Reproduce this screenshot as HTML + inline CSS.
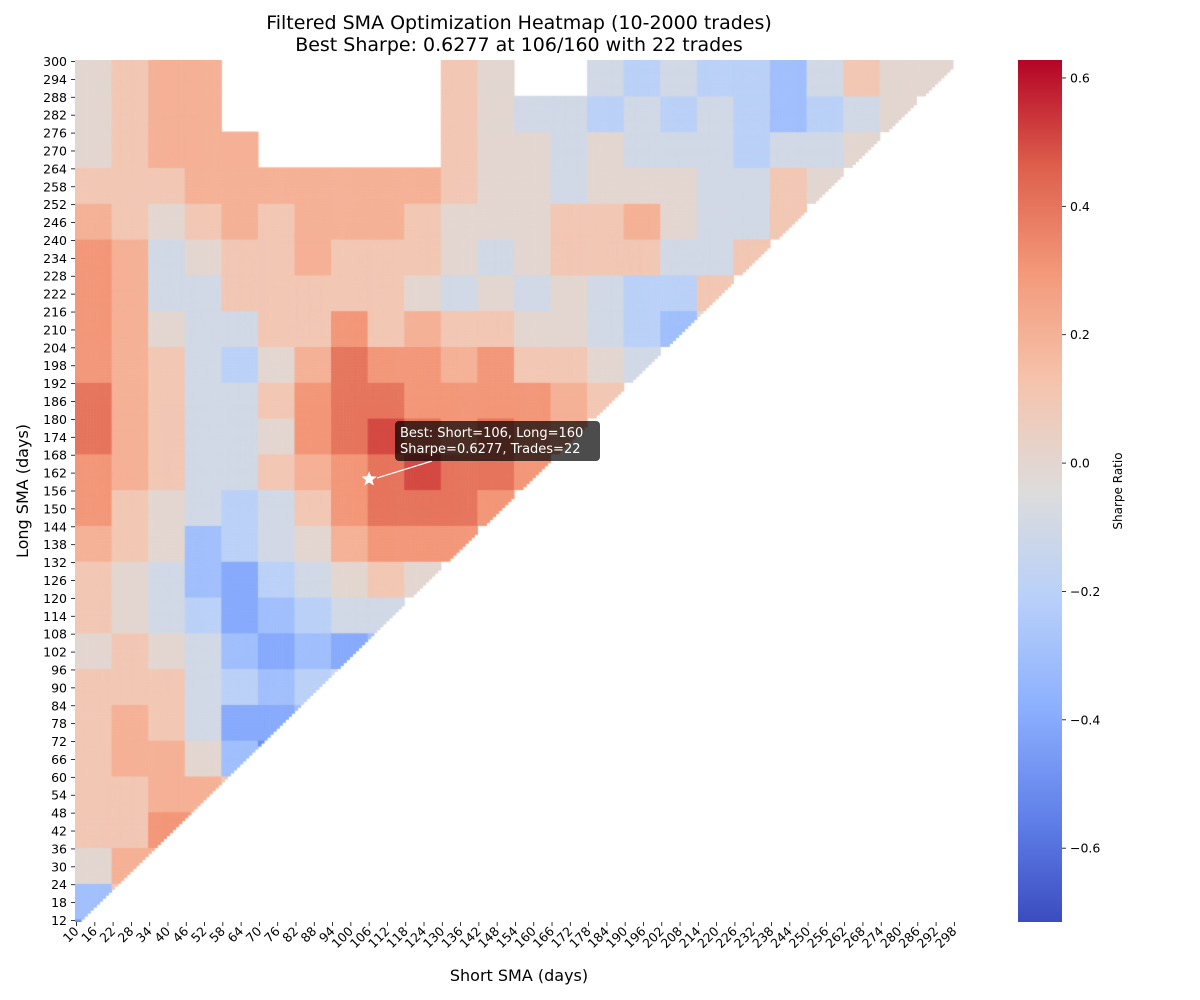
<!DOCTYPE html>
<html><head><meta charset="utf-8"><style>
body{margin:0;background:#fff;font-family:"DejaVu Sans","Liberation Sans",sans-serif}
#wrap{position:relative;width:1200px;height:1000px;overflow:hidden}
canvas{position:absolute;left:75px;top:60px}
svg{position:absolute;left:0;top:0}
svg text{font-family:"DejaVu Sans","Liberation Sans",sans-serif}
</style></head><body>
<div id="wrap">
<canvas id="hm" width="887" height="862"></canvas>
<svg id="ov" width="1200" height="1000">
<text x="519" y="29" font-size="19" text-anchor="middle">Filtered SMA Optimization Heatmap (10-2000 trades)</text>
<text x="519" y="51" font-size="19" text-anchor="middle">Best Sharpe: 0.6277 at 106/160 with 22 trades</text>
<text x="519" y="981" font-size="16" text-anchor="middle">Short SMA (days)</text>
<text x="28" y="491" font-size="16" text-anchor="middle" transform="rotate(-90 28 491)">Long SMA (days)</text>
<text x="1122" y="491" font-size="12" text-anchor="middle" transform="rotate(-90 1122 491)">Sharpe Ratio</text>
<g id="xt"></g>
<g id="yt"></g>
<g id="cb"></g>
<g>
<line x1="432" y1="461" x2="377" y2="478" stroke="#fff" stroke-width="1.2"/>
<polygon id="star" fill="#fff"/>
<rect x="395" y="421" width="205" height="40" rx="4" fill="rgba(0,0,0,0.7)"/>
<text x="400" y="437" font-size="13" fill="#fff">Best: Short=106, Long=160</text>
<text x="400" y="453" font-size="13" fill="#fff">Sharpe=0.6277, Trades=22</text>
</g>
</svg>
</div>
<script>
// value codes: A=-0.7 ... H=0.0 ... N=0.6 ; '.' = filtered out
const codeLetters = "ABCDEFGHIJKLMN";
const blockSize = 12;
const shortMin = 10, shortMax = 300, longMin = 12, longMax = 300;
const gridRows = [
"HIJJ......IH..GFGFFEGIHH.",
"HIJJ......IHGGFGFGFEFGH..",
"HIJJJ.....IHHGHGGGFGGH...",
"IIIJJJJJJJIHHGHHHGGIH",
"JIHIJIJJJIHHHIIJHGGI",
"KJGHIIJIIIHGHIIIGGI",
"KJGGIIIIIHGHGHGFFI",
"KJHGGIIKIJIIHHGFEH",
"KJIGFHJLKKJKIIHG",
"LJIGGIKLLKKKKJI",
"LJIGGHKLMLKLKJ",
"KJIGGIJKLMLLK",
"KIHGFGIKLLLK",
"JIHEFGHJKKK",
"IHGEDFGHIH",
"IHGFDEFGG",
"HIHGEDEDE",
"IIIGFEFG",
"IJIGDDE",
"IJJHEC",
"IIJJI",
"IIKK",
"HJJ",
"EI",
"C"
];
const cbTicks = [0.6,0.4,0.2,0.0,-0.2,-0.4,-0.6];
const best = {short:106, long:160};
const vmin=-0.715, vmax=0.628;

const X0=75,X1=962,Y0=60,Y1=922;
const cw=(X1-X0)/(shortMax-shortMin+1), ch=(Y1-Y0)/(longMax-longMin+1);
const xPos=s=>X0+(s-shortMin+0.5)*cw;
const yPos=l=>Y0+(longMax-l+0.5)*ch;

const anchors=[[0,[59,76,192]],[0.125,[98,130,234]],[0.25,[141,176,254]],[0.375,[184,208,249]],[0.5,[221,220,220]],[0.625,[245,196,173]],[0.75,[244,154,123]],[0.875,[222,96,76]],[1,[180,4,38]]];
function cmap(v){
  let t=Math.max(0,Math.min(1,(v-vmin)/(vmax-vmin)));
  for(let k=1;k<anchors.length;k++){
    if(t<=anchors[k][0]){const a=anchors[k-1],b=anchors[k];const f=(t-a[0])/(b[0]-a[0]);
      return `rgb(${a[1].map((c,i)=>Math.round(c+(b[1][i]-c)*f)).join(',')})`;}
  }
  return 'rgb(180,4,38)';
}
function val(s,l){
  const i=Math.floor((longMax-l)/blockSize), j=Math.floor((s-shortMin)/blockSize);
  const row=(gridRows[i]||"").padEnd(25,'.');
  const c=row[j]; if(!c||c==='.') return null;
  return -0.7+0.1*codeLetters.indexOf(c);
}
const ctx=document.getElementById('hm').getContext('2d');
for(let l=longMin;l<=longMax;l++){
  for(let s=shortMin;s<=shortMax;s++){
    if(s>=l) continue;
    const v=val(s,l); if(v===null) continue;
    ctx.fillStyle=cmap(v);
    ctx.fillRect((s-shortMin)*cw,(longMax-l)*ch,cw+0.6,ch+0.6);
  }
}
const NS="http://www.w3.org/2000/svg";
function mk(tag,attrs,parent){const e=document.createElementNS(NS,tag);for(const k in attrs)e.setAttribute(k,attrs[k]);parent.appendChild(e);return e;}
const xt=document.getElementById('xt');
for(let s=10;s<=298;s+=6){
  const x=xPos(s);
  const tk=mk('line',{x1:x,y1:Y1,x2:x,y2:Y1+4,stroke:'#000','stroke-width':0.8},xt);
  
  
  const t=mk('text',{x:x+3,y:Y1+10,'font-size':12.5,'text-anchor':'end',transform:`rotate(-45 ${x+3} ${Y1+10})`},xt);
  
  
  t.textContent=s;
}
const yt=document.getElementById('yt');
for(let l=12;l<=300;l+=6){
  const y=yPos(l);
  const tk=mk('line',{x1:X0-4,y1:y,x2:X0,y2:y,stroke:'#000','stroke-width':0.8},yt);
  
  
  const t=mk('text',{x:X0-8,y:y+4.5,'font-size':12.5,'text-anchor':'end'},yt);
  
  
  t.textContent=l;
}
// colorbar
const cb=document.getElementById('cb');
const defs=mk('defs',{},cb);
const grad=mk('linearGradient',{id:'cg',x1:0,y1:1,x2:0,y2:0},defs);
anchors.forEach(a=>mk('stop',{offset:a[0],'stop-color':`rgb(${a[1].join(',')})`},grad));
const cbr=mk('rect',{x:1018,y:Y0,width:44,height:Y1-Y0,fill:'url(#cg)'},cb);


const cbY=v=>Y1-(v-vmin)/(vmax-vmin)*(Y1-Y0);
cbTicks.forEach(v=>{
  const y=cbY(v);
  const tk=mk('line',{x1:1062,y1:y,x2:1066,y2:y,stroke:'#000','stroke-width':0.8},cb);
  
  
  const t=mk('text',{x:1070,y:y+4.5,'font-size':12.5},cb);
  
  
  t.textContent=(v<0?'\u2212':'')+Math.abs(v).toFixed(1);
});
// star
const cx=xPos(best.short), cy=yPos(best.long);
let pts=[];for(let k=0;k<10;k++){const r=k%2?3.4:8;const a=-Math.PI/2+k*Math.PI/5;pts.push((cx+r*Math.cos(a)).toFixed(1)+','+(cy+r*Math.sin(a)).toFixed(1));}
document.getElementById('star').setAttribute('points',pts.join(' '));
</script>
</body></html>
